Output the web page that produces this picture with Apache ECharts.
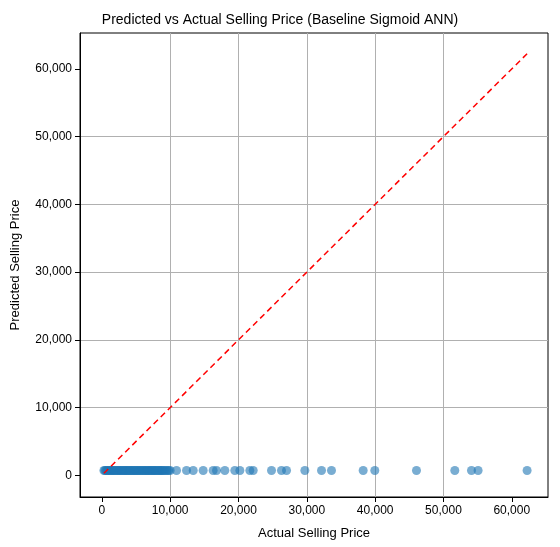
<!DOCTYPE html>
<html><head><meta charset="utf-8">
<script src="https://cdn.jsdelivr.net/npm/echarts@6/dist/echarts.min.js"></script>
<style>body{margin:0}#c{width:560px;height:547px}</style></head>
<body><div id="c"></div>
<script>
var actual = [300,450,600,750,900,1050,1200,1350,1500,1650,1800,1950,2100,2250,2400,2550,2700,2850,3000,3150,3300,3450,3600,3750,3900,4050,4200,4350,4500,4650,4800,4950,5100,5250,5400,5550,5700,5850,6000,6150,6300,6450,6600,6750,6900,7050,7200,7350,7500,7650,7800,7950,8100,8250,8400,8550,8700,8850,9000,9200,9400,9600,9800,10000,
  10930,12390,13370,14830,16290,16780,18000,19460,20200,21660,22150,24830,26290,27030,29710,32150,33610,38250,39950,46050,51660,54100,55070,62240];
var predicted = [720,720,720,720,720,720,720,720,720,720,720,720,720,720,720,720,720,720,720,720,720,720,720,720,720,720,720,720,720,720,720,720,720,720,720,720,720,720,720,720,720,720,720,720,720,720,720,720,720,720,720,720,720,720,720,720,720,720,720,720,720,720,720,720,
  720,720,720,720,720,720,720,720,720,720,720,720,720,720,720,720,720,720,720,720,720,720,720,720];
var lineEnds = [300, 62240];
var tickValues = [0,10000,20000,30000,40000,50000,60000];

var pts = actual.map(function(a,i){return [a,predicted[i]];});
var chart = echarts.init(document.getElementById('c'));
function axis(name, gap){
  return {
    type:'value', min:-3200, max:65300, interval:10000,
    name:name, nameGap:gap, nameLocation:'middle',
    nameTextStyle:{color:'#000',fontSize:13},
    axisLine:{show:true,onZero:false,lineStyle:{color:'#000'}},
    axisTick:{show:true,customValues:tickValues,lineStyle:{color:'#000'}},
    axisLabel:{color:'#000',fontSize:12,customValues:tickValues},
    splitLine:{show:true,showMinLine:false,showMaxLine:false,lineStyle:{color:'#b0b0b0'}}
  };
}
chart.setOption({
  animation:false,
  title:{text:'Predicted vs Actual Selling Price (Baseline Sigmoid ANN)',left:'center',top:8,
    textStyle:{fontSize:14,fontWeight:'normal',color:'#000'}},
  grid:{left:80,right:12,top:33,bottom:50,show:true,borderColor:'#000',borderWidth:1},
  xAxis:axis('Actual Selling Price',30),
  yAxis:axis('Predicted Selling Price',58),
  series:[
    {type:'scatter',data:pts,symbolSize:9,itemStyle:{color:'#1f77b4',opacity:0.6}},
    {type:'line',data:[[lineEnds[0],lineEnds[0]],[lineEnds[1],lineEnds[1]]],symbol:'none',
      lineStyle:{color:'#ff0000',type:[6,4],width:1.5}}
  ]
});
</script></body></html>
